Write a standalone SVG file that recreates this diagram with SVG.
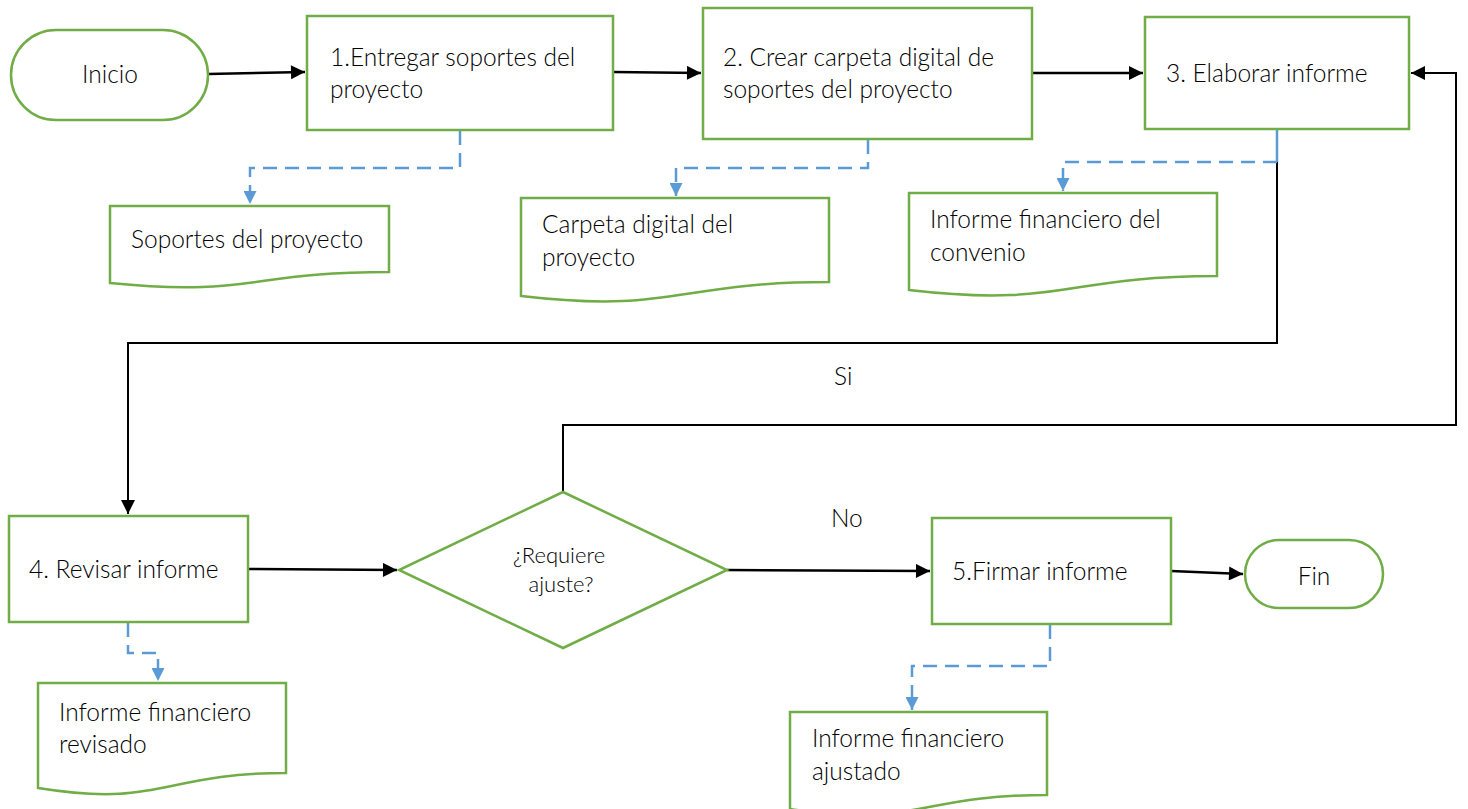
<svg xmlns="http://www.w3.org/2000/svg" width="1468" height="809" viewBox="0 0 1468 809">
<defs>
<style>
.n{fill:#fff;stroke:#70AD47;stroke-width:2.5}
.t{font-family:Lato,"Liberation Sans",sans-serif;font-weight:300;font-size:24.5px;fill:#000}
.c{fill:none;stroke:#000;stroke-width:2}
.d{fill:none;stroke:#5B9BD5;stroke-width:2.5;stroke-dasharray:14 8}
</style>
<marker id="ab" viewBox="0 0 10 10" refX="10" refY="5" markerWidth="15" markerHeight="14" markerUnits="userSpaceOnUse" orient="auto"><path d="M0,0 L10,5 L0,10 Z" fill="#000"/></marker>
<marker id="bl" viewBox="0 0 10 10" refX="10" refY="5" markerWidth="14" markerHeight="13" markerUnits="userSpaceOnUse" orient="auto"><path d="M0,0 L10,5 L0,10 Z" fill="#5B9BD5"/></marker>
</defs>
<rect width="1468" height="809" fill="#fff"/>

<g id="connectors">
<path class="c" d="M208,74 L305,72" marker-end="url(#ab)" style="stroke-width:2.5"/>
<path class="c" d="M613,72 L701,73" marker-end="url(#ab)" style="stroke-width:2.5"/>
<path class="c" d="M1032,73 L1143,73" marker-end="url(#ab)" style="stroke-width:2.5"/>
<path class="c" d="M1277,129 V343 H128 V514" marker-end="url(#ab)"/>
<path class="c" d="M563,492 V425 H1456 V73 H1411" marker-end="url(#ab)"/>
<path class="c" d="M248,569 L397,570" marker-end="url(#ab)" style="stroke-width:2.5"/>
<path class="c" d="M727,570 L930,571" marker-end="url(#ab)" style="stroke-width:2.5"/>
<path class="c" d="M1171,571 L1243,574" marker-end="url(#ab)" style="stroke-width:2.5"/>
<path class="d" d="M460,131 V168 H250 V204" marker-end="url(#bl)"/>
<path class="d" d="M868,140 V168 H676 V196" marker-end="url(#bl)"/>
<path fill="none" stroke="#5B9BD5" stroke-width="2.5" d="M1277,130 V162"/>
<path class="d" d="M1277,162 H1063 V191" marker-end="url(#bl)"/>
<path class="d" d="M128,623 V653 H158 V681" marker-end="url(#bl)"/>
<path class="d" d="M1050,625 V666 H912 V710" marker-end="url(#bl)"/>
</g>

<g id="inicio"><rect class="n" x="11" y="30" width="197" height="90" rx="45" ry="45"/><text class="t" x="110" y="83" text-anchor="middle">Inicio</text></g>
<g id="n1"><rect class="n" x="307" y="16" width="306" height="114"/><text class="t" x="330" y="66">1.Entregar soportes del</text><text class="t" x="330" y="98">proyecto</text></g>
<g id="n2"><rect class="n" x="703" y="8" width="329" height="131"/><text class="t" x="723" y="66">2. Crear carpeta digital de</text><text class="t" x="723" y="98">soportes del proyecto</text></g>
<g id="n3"><rect class="n" x="1145" y="17" width="264" height="112"/><text class="t" x="1166" y="82">3. Elaborar informe</text></g>

<g id="d1"><path class="n" d="M110,206 H389 V272 C250,272 250,297 110,283 Z"/><text class="t" x="131" y="248">Soportes del proyecto</text></g>
<g id="d2"><path class="n" d="M521,198 H829 V282 C675,282 675,314 521,296 Z"/><text class="t" x="542" y="233">Carpeta digital del</text><text class="t" x="542" y="266">proyecto</text></g>
<g id="d3"><path class="n" d="M909,193 H1217 V276 C1063,276 1063,308 909,290 Z"/><text class="t" x="930" y="228">Informe financiero del</text><text class="t" x="930" y="261">convenio</text></g>

<g id="n4"><rect class="n" x="9" y="516" width="239" height="106"/><text class="t" x="29" y="578">4. Revisar informe</text></g>
<g id="dec"><path class="n" d="M563,492 L727,570 L563,648 L399,570 Z"/><text class="t" x="559" y="563" text-anchor="middle" style="font-size:22px">¿Requiere</text><text class="t" x="561" y="592" text-anchor="middle" style="font-size:22px">ajuste?</text></g>
<g id="n5"><rect class="n" x="932" y="518" width="239" height="106"/><text class="t" x="952" y="580">5.Firmar informe</text></g>
<g id="fin"><rect class="n" x="1245" y="540" width="138" height="68" rx="34" ry="34"/><text class="t" x="1314" y="585" text-anchor="middle">Fin</text></g>

<g id="d4"><path class="n" d="M38,683 H286 V773 C162,773 162,808 38,788 Z"/><text class="t" x="59" y="721">Informe financiero</text><text class="t" x="59" y="753">revisado</text></g>
<g id="d5"><path class="n" d="M790,712 H1047 V795 C918,795 918,828 790,809 Z"/><text class="t" x="812" y="747">Informe financiero</text><text class="t" x="812" y="780">ajustado</text></g>

<g id="labels"><text class="t" x="834" y="385">Si</text><text class="t" x="831" y="527">No</text></g>
</svg>
